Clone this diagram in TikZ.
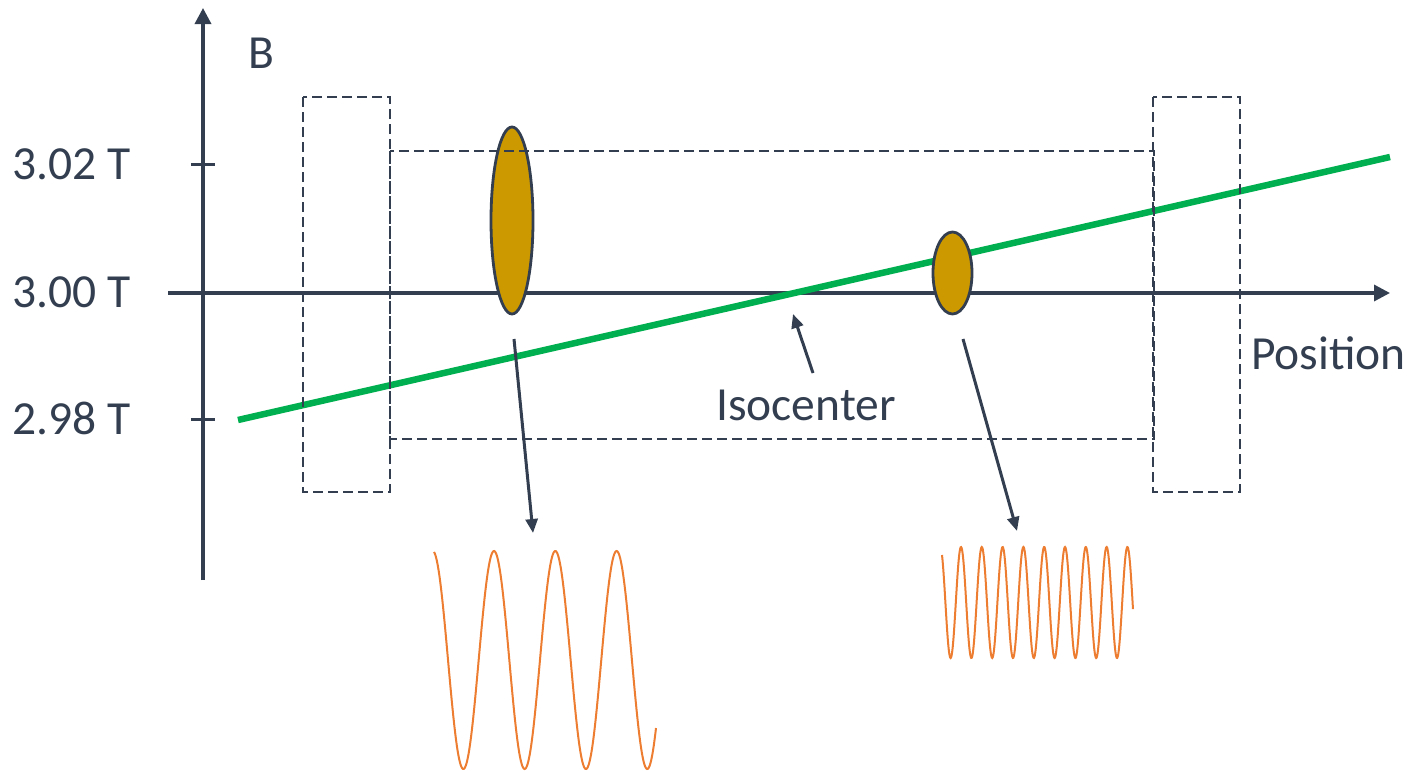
\documentclass[tikz,border=0pt]{standalone}
\usepackage{fontspec}
\setmainfont{Carlito}
\usetikzlibrary{arrows.meta,shapes.geometric}
\definecolor{slate}{RGB}{51,63,80}
\definecolor{gold}{RGB}{204,153,0}
\definecolor{grn}{RGB}{0,176,80}
\definecolor{org}{RGB}{237,125,49}
\begin{document}
\begin{tikzpicture}[x=1pt,y=-1pt,
  axisline/.style={draw=slate, line width=3.4pt, -{Triangle[length=16pt,width=16pt]}},
  tickline/.style={draw=slate, line width=3pt},
  lbl/.style={text=slate, font=\fontsize{47.5}{56}\selectfont, inner sep=0pt},
  boxdash/.style={draw=slate, line width=2.5pt, dash pattern=on 10pt off 5pt},
  spot/.style={ellipse, draw=slate, line width=2.8pt, fill=gold, inner sep=0pt},
  pointer/.style={draw=slate, line width=3pt, -{Triangle[length=14pt,width=12pt]}},
  wave/.style={draw=org, line width=2pt},
  field/.style={draw=grn, line width=6.5pt}]
\useasboundingbox (0,0) rectangle (1414,771);
% axes
\coordinate (yb) at (203,580);
\coordinate (yt) at (203,8);
\coordinate (xl) at (168,293);
\coordinate (xr) at (1390,293);
\draw[axisline] (yb) -- (yt);
\draw[axisline] (xl) -- (xr);
\coordinate (t1a) at (191,164); \coordinate (t1b) at (215,164);
\coordinate (t2a) at (191,419); \coordinate (t2b) at (215,419);
\draw[tickline] (t1a) -- (t1b);
\draw[tickline] (t2a) -- (t2b);
% labels
\node[lbl, anchor=base east] (l302) at (131,179) {3.02 T};
\node[lbl, anchor=base east] (l300) at (131,307) {3.00 T};
\node[lbl, anchor=base east] (l298) at (131,434) {2.98 T};
\node[lbl, anchor=base west] (lB) at (248,68) {B};
\node[lbl, anchor=base west] (lpos) at (1251,369) {Position};
\node[lbl, anchor=base] (liso) at (806,420) {Isocenter};
% field gradient
\coordinate (g1) at (238,420);
\coordinate (g2) at (1390,157);
\draw[field] (g1) -- (g2);
% spins
\node[spot, minimum width=42pt, minimum height=187pt] (e1) at (512,220.5) {};
\node[spot, minimum width=39pt, minimum height=82pt] (e2) at (952.5,273) {};
% dashed boxes
\draw[boxdash] (303,97) rectangle (390,492);
\draw[boxdash] (1153,97) rectangle (1240,492);
\draw[boxdash] (390,151) rectangle (1154,439);
% pointers
\coordinate (a1s) at (514,339); \coordinate (a1e) at (533,533);
\coordinate (a2s) at (963,339); \coordinate (a2e) at (1017,531);
\coordinate (ais) at (813,373); \coordinate (aie) at (793,314);
\draw[pointer] (a1s) -- (a1e);
\draw[pointer] (a2s) -- (a2e);
\draw[pointer] (ais) -- (aie);
% signals
\draw[wave] plot[domain=434:656, samples=300, smooth] (\x, {660 - 109*cos((\x-432.7)*5.8728)});
\draw[wave] plot[domain=942:1133, samples=400, smooth] (\x, {602.5 - 55.5*cos((\x-940.2)*17.3077)});
\end{tikzpicture}
\end{document}
